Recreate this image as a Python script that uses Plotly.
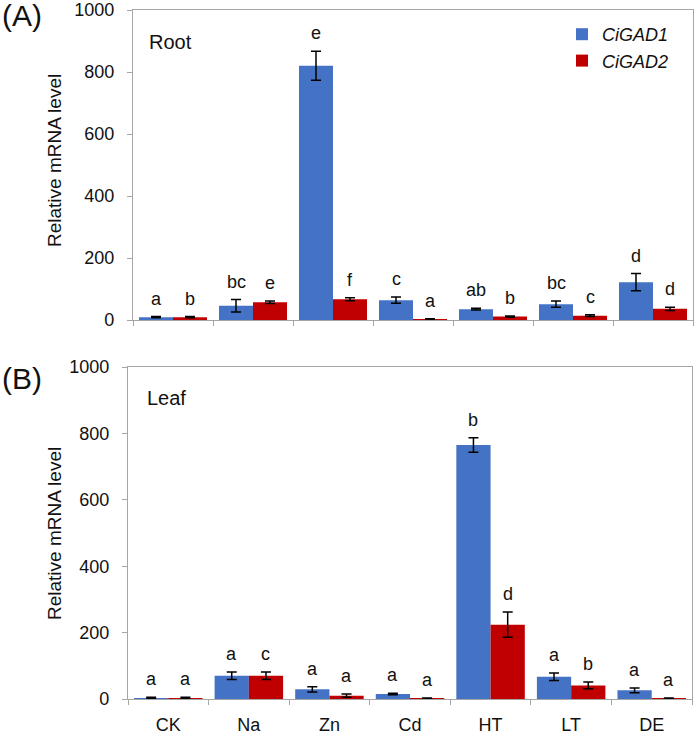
import plotly.graph_objects as go

categories = ["CK", "Na", "Zn", "Cd", "HT", "LT", "DE"]

# Panel A: Root
root_gad1 = [9, 46, 820, 64, 35, 51, 122]
root_gad1_err = [2, 20, 47, 10, 3, 10, 28]
root_gad2 = [9, 57, 67, 3, 11, 14, 36]
root_gad2_err = [2, 4, 5, 1, 2, 3, 5]
root_gad1_letters = ["a", "bc", "e", "c", "ab", "bc", "d"]
root_gad2_letters = ["b", "e", "f", "a", "b", "c", "d"]

# Panel B: Leaf
leaf_gad1 = [3, 70, 29, 15, 765, 67, 26]
leaf_gad1_err = [2, 11, 8, 2, 22, 11, 7]
leaf_gad2 = [3, 70, 10, 2, 224, 41, 2]
leaf_gad2_err = [2, 11, 5, 1, 38, 10, 1]
leaf_gad1_letters = ["a", "a", "a", "a", "b", "a", "a"]
leaf_gad2_letters = ["a", "c", "a", "a", "d", "b", "a"]

y_ticks = [0, 200, 400, 600, 800, 1000]

BLUE = "#4472C4"
RED = "#C00000"
AXIS = "#A6A6A6"
TXT = "#111111"
FONT = "Liberation Sans, Arial, sans-serif"

W, H = 695, 734

def px_x(p):
    return p / W

def px_y(p):
    return 1 - p / H

fig = go.Figure()

panels = [
    ("x", "y", root_gad1, root_gad1_err, root_gad2, root_gad2_err, root_gad1_letters, root_gad2_letters, True),
    ("x2", "y2", leaf_gad1, leaf_gad1_err, leaf_gad2, leaf_gad2_err, leaf_gad1_letters, leaf_gad2_letters, False),
]

err_style = dict(type="data", visible=True, color="#000000", thickness=1.5, width=5)

for xa, ya, g1, e1, g2, e2, l1, l2, show in panels:
    fig.add_trace(go.Bar(x=categories, y=g1, name="<i>CiGAD1</i>", marker=dict(color=BLUE, line=dict(width=0)),
                         error_y=dict(array=e1, **err_style), xaxis=xa, yaxis=ya, showlegend=show,
                         legendgroup="g1"))
    fig.add_trace(go.Bar(x=categories, y=g2, name="<i>CiGAD2</i>", marker=dict(color=RED, line=dict(width=0)),
                         error_y=dict(array=e2, **err_style), xaxis=xa, yaxis=ya, showlegend=show,
                         legendgroup="g2"))
    for i in range(len(categories)):
        for off, vals, errs, lets in ((-0.2125, g1, e1, l1), (0.2125, g2, e2, l2)):
            fig.add_annotation(x=i + off, y=vals[i] + errs[i], xref=xa, yref=ya, text=lets[i],
                               showarrow=False, yanchor="bottom", yshift=6,
                               font=dict(family=FONT, size=18, color=TXT))

axis_common = dict(showline=True, linecolor=AXIS, linewidth=1.3, mirror=True, showgrid=False,
                   zeroline=False, automargin=False, ticklabeloverflow="allow")

fig.update_layout(
    width=W, height=H,
    margin=dict(l=0, r=0, t=0, b=0),
    paper_bgcolor="white", plot_bgcolor="white",
    barmode="group", bargap=0.15, bargroupgap=0,
    font=dict(family=FONT, size=18, color=TXT),
    xaxis=dict(domain=[px_x(133), px_x(693)], anchor="y", type="category", tickson="boundaries",
               ticks="outside", ticklen=5, tickcolor=AXIS, showticklabels=False, **axis_common),
    yaxis=dict(domain=[px_y(320), px_y(10)], anchor="x", range=[0, 1000], tickvals=y_ticks,
               ticks="outside", ticklen=5, tickcolor=AXIS, ticklabelstandoff=9,
               tickfont=dict(size=18, color=TXT), **axis_common),
    xaxis2=dict(domain=[px_x(128), px_x(692)], anchor="y2", type="category", tickson="boundaries",
                ticks="outside", ticklen=5, tickcolor=AXIS, ticklabelstandoff=9,
                tickfont=dict(size=18, color=TXT), **axis_common),
    yaxis2=dict(domain=[px_y(699), px_y(367)], anchor="x2", range=[0, 1000], tickvals=y_ticks,
                ticks="outside", ticklen=5, tickcolor=AXIS, ticklabelstandoff=9,
                tickfont=dict(size=18, color=TXT), **axis_common),
    legend=dict(x=px_x(562), y=px_y(16), xanchor="left", yanchor="top", bgcolor="rgba(0,0,0,0)",
                font=dict(family=FONT, size=18, color=TXT), itemwidth=30, tracegroupgap=0),
)

# Axis titles and panel labels
for yc in (160, 533):
    fig.add_annotation(x=px_x(54), y=px_y(yc), xref="paper", yref="paper", text="Relative mRNA level",
                       textangle=-90, showarrow=False, xanchor="center", yanchor="middle",
                       font=dict(family=FONT, size=19, color=TXT))
fig.add_annotation(x=0, y=px_y(16), xref="paper", yref="paper", text="(A)", xanchor="left",
                   yanchor="middle", showarrow=False, font=dict(family=FONT, size=30, color=TXT))
fig.add_annotation(x=0, y=px_y(378), xref="paper", yref="paper", text="(B)", xanchor="left",
                   yanchor="middle", showarrow=False, font=dict(family=FONT, size=30, color=TXT))
fig.add_annotation(x=px_x(147), y=px_y(42), xref="paper", yref="paper", text="Root", xanchor="left",
                   yanchor="middle", showarrow=False, font=dict(family=FONT, size=20, color=TXT))
fig.add_annotation(x=px_x(145), y=px_y(398), xref="paper", yref="paper", text="Leaf", xanchor="left",
                   yanchor="middle", showarrow=False, font=dict(family=FONT, size=20, color=TXT))

fig.write_html("out.html", config={"displayModeBar": False},
               post_script="document.body.style.margin='0';")
